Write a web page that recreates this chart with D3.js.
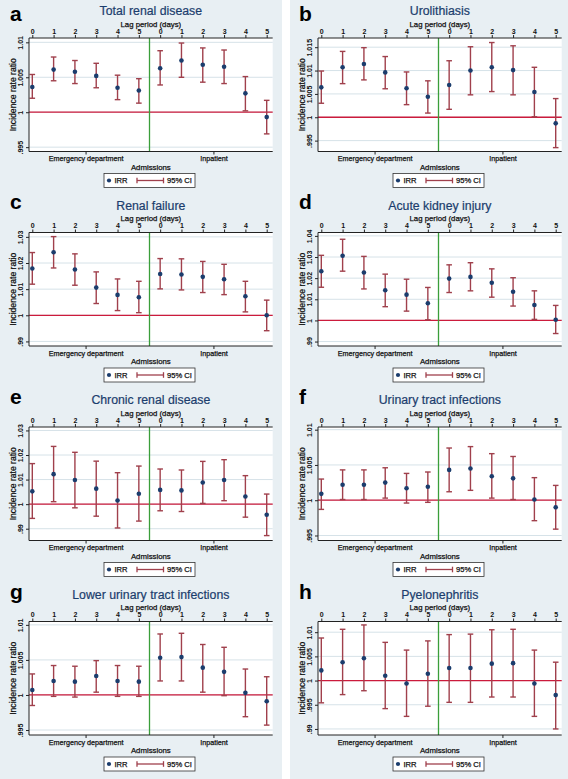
<!DOCTYPE html>
<html><head><meta charset="utf-8">
<script src="https://cdn.jsdelivr.net/npm/d3@7"></script>
<style>
body{margin:0;background:#fff}
svg{display:block}
text{font-family:"Liberation Sans",Arial,Helvetica,sans-serif}
.heavy{stroke:#111;stroke-width:0.25px}
</style>
</head><body>
<svg id="chart" width="568" height="779"></svg>
<script>
// ---------- DATA ----------
const lagLabels = ["0","1","2","3","4","5","0","1","2","3","4","5"];
const settingLabels = ["Emergency department","Inpatient"];
const panelLetters = ["a","b","c","d","e","f","g","h"];
const panelTitles = ["Total renal disease","Urolithiasis","Renal failure","Acute kidney injury",
  "Chronic renal disease","Urinary tract infections","Lower urinary tract infections","Pyelonephritis"];
const legendLabels = ["IRR","95% CI"];

// a: Total renal disease
const irrA = [1.0036,1.0061,1.0058,1.0052,1.0035,1.0031, 1.0063,1.0074,1.0068,1.0065,1.0027,0.9993];
const loA  = [1.0020,1.0045,1.0041,1.0035,1.0018,1.0013, 1.0039,1.0050,1.0043,1.0041,1.0002,0.9969];
const hiA  = [1.0054,1.0079,1.0074,1.0070,1.0053,1.0048, 1.0088,1.0099,1.0092,1.0089,1.0051,1.0017];
const yRangeA = [0.99438, 1.01062];
const yTicksA = [0.995, 1, 1.005, 1.01];
const yTickLabelsA = [".995","1","1.005","1.01"];

// b: Urolithiasis
const irrB = [1.0064,1.0107,1.0114,1.0096,1.0062,1.0044, 1.0069,1.0100,1.0107,1.0101,1.0054,0.9987];
const loB  = [1.0030,1.0072,1.0080,1.0061,1.0027,1.0009, 1.0017,1.0048,1.0055,1.0048,1.0001,0.9935];
const hiB  = [1.0099,1.0141,1.0149,1.0130,1.0097,1.0078, 1.0121,1.0151,1.0160,1.0153,1.0107,1.0040];
const yRangeB = [0.99267, 1.01697];
const yTicksB = [0.995, 1, 1.005, 1.01, 1.015];
const yTickLabelsB = [".995","1","1.005","1.01","1.015"];

// c: Renal failure
const irrC = [1.0179,1.0241,1.0175,1.0106,1.0078,1.0069, 1.0158,1.0156,1.0147,1.0138,1.0073,1.0000];
const loC  = [1.0119,1.0181,1.0115,1.0045,1.0018,1.0010, 1.0101,1.0097,1.0087,1.0079,1.0013,0.9941];
const hiC  = [1.0240,1.0301,1.0235,1.0166,1.0139,1.0130, 1.0217,1.0216,1.0206,1.0195,1.0130,1.0058];
const yRangeC = [0.98825, 1.03167];
const yTicksC = [0.99, 1, 1.01, 1.02, 1.03];
const yTickLabelsC = [".99","1","1.01","1.02","1.03"];

// d: Acute kidney injury
const irrD = [1.0233,1.0306,1.0227,1.0143,1.0122,1.0081, 1.0198,1.0206,1.0178,1.0136,1.0073,1.0003];
const loD  = [1.0157,1.0233,1.0149,1.0065,1.0044,1.0003, 1.0132,1.0140,1.0110,1.0068,1.0005,0.9938];
const hiD  = [1.0308,1.0384,1.0303,1.0219,1.0195,1.0156, 1.0263,1.0273,1.0244,1.0202,1.0140,1.0071];
const yRangeD = [0.9879, 1.0416];
const yTicksD = [0.99, 1, 1.01, 1.02, 1.03, 1.04];
const yTickLabelsD = [".99","1","1.01","1.02","1.03","1.04"];

// e: Chronic renal disease
const irrE = [1.0052,1.0122,1.0098,1.0063,1.0015,1.0042, 1.0058,1.0056,1.0088,1.0098,1.0031,0.9957];
const loE  = [0.9942,1.0010,0.9985,0.9951,0.9903,0.9931, 0.9973,0.9970,1.0003,1.0014,0.9947,0.9872];
const hiE  = [1.0165,1.0235,1.0211,1.0175,1.0128,1.0155, 1.0143,1.0139,1.0174,1.0181,1.0116,1.0041];
const yRangeE = [0.9852, 1.0314];
const yTicksE = [0.99, 1, 1.01, 1.02, 1.03];
const yTickLabelsE = [".99","1","1.01","1.02","1.03"];

// f: Urinary tract infections
const irrF = [1.0009,1.0022,1.0022,1.0025,1.0017,1.0019, 1.0043,1.0045,1.0034,1.0031,1.0001,0.9990];
const loF  = [0.9987,1.0001,1.0001,1.0003,0.9996,0.9997, 1.0012,1.0014,1.0003,1.0001,0.9971,0.9959];
const hiF  = [1.0030,1.0043,1.0043,1.0046,1.0038,1.0040, 1.0074,1.0076,1.0066,1.0062,1.0032,1.0021];
const yRangeF = [0.99429, 1.01038];
const yTicksF = [0.995, 1, 1.005, 1.01];
const yTickLabelsF = [".995","1","1.005","1.01"];

// g: Lower urinary tract infections
const irrG = [1.0007,1.0020,1.0019,1.0027,1.0020,1.0019, 1.0053,1.0054,1.0039,1.0033,1.0003,0.9991];
const loG  = [0.9985,0.9998,0.9997,1.0004,0.9998,0.9998, 1.0020,1.0020,1.0004,0.9999,0.9969,0.9957];
const hiG  = [1.0030,1.0042,1.0041,1.0049,1.0042,1.0041, 1.0087,1.0088,1.0072,1.0068,1.0037,1.0026];
const yRangeG = [0.99429, 1.01048];
const yTicksG = [0.995, 1, 1.005, 1.01];
const yTickLabelsG = [".995","1","1.005","1.01"];

// h: Pyelonephritis
const irrH = [1.0021,1.0038,1.0046,1.0010,0.9994,1.0014, 1.0026,1.0026,1.0035,1.0036,0.9994,0.9970];
const loH  = [0.9954,0.9971,0.9979,0.9942,0.9926,0.9947, 0.9955,0.9955,0.9966,0.9966,0.9926,0.9900];
const hiH  = [1.0088,1.0106,1.0115,1.0079,1.0063,1.0082, 1.0095,1.0096,1.0105,1.0106,1.0063,1.0038];
const yRangeH = [0.98875, 1.01221];
const yTicksH = [0.99, 0.995, 1, 1.005, 1.01];
const yTickLabelsH = [".99",".995","1","1.005","1.01"];

// ---------- BUILD PANELS ----------
const panels = [
  [irrA,loA,hiA,yRangeA,yTicksA,yTickLabelsA],
  [irrB,loB,hiB,yRangeB,yTicksB,yTickLabelsB],
  [irrC,loC,hiC,yRangeC,yTicksC,yTickLabelsC],
  [irrD,loD,hiD,yRangeD,yTicksD,yTickLabelsD],
  [irrE,loE,hiE,yRangeE,yTicksE,yTickLabelsE],
  [irrF,loF,hiF,yRangeF,yTicksF,yTickLabelsF],
  [irrG,loG,hiG,yRangeG,yTicksG,yTickLabelsG],
  [irrH,loH,hiH,yRangeH,yTicksH,yTickLabelsH]
].map((p,i)=>({
  letter: panelLetters[i], title: panelTitles[i],
  rows: lagLabels.map((l,j)=>({idx:j, lag:l, irr:p[0][j], lo:p[1][j], hi:p[2][j]})),
  yRange: p[3], yTicks: p[4], yTickLabels: p[5]
}));

// ---------- LAYOUT ----------
const svg = d3.select("#chart");
const BG = "#e8eff3";
const colX = [0, 289];
const rowY = [0, 194.5, 389, 583.5];
const letterBase = [20.5, 14, 14.5, 15.5];

svg.append("rect").attr("x",0).attr("y",0).attr("width",282).attr("height",779).attr("fill",BG);
svg.append("rect").attr("x",290).attr("y",0).attr("width",278).attr("height",779).attr("fill",BG);

const PL = 29, PR = 272.7, PT = 38, PB = 151.5;
const PC = (PL+PR)/2;
const NAVY = "#1b3d6d", CI = "#a0404c", REF = "#cc1b3c", GREEN = "#3a9e3a", AX = "#222";

panels.forEach((p,i)=>{
  const col = i%2, row = Math.floor(i/2);
  const g = svg.append("g").attr("transform",`translate(${colX[col]},${rowY[row]})`);

  const x = d3.scaleLinear().domain([0,11]).range([PL+3.3, PR-6]);
  const y = d3.scaleLinear().domain(p.yRange).range([PB, PT]);

  // plot region
  g.append("rect").attr("x",PL).attr("y",PT).attr("width",PR-PL).attr("height",PB-PT).attr("fill","#fff");

  // gridlines
  g.append("g").selectAll("line").data(p.yTicks).join("line")
    .attr("x1",PL).attr("x2",PR).attr("y1",d=>y(d)).attr("y2",d=>y(d))
    .attr("stroke","#d6e2e8").attr("stroke-width",1);

  // reference line at 1
  g.append("line").attr("x1",PL).attr("x2",PR).attr("y1",y(1)).attr("y2",y(1))
    .attr("stroke",REF).attr("stroke-width",1.3);

  // vertical separator
  g.append("line").attr("x1",x(5.5)).attr("x2",x(5.5)).attr("y1",PT).attr("y2",PB)
    .attr("stroke",GREEN).attr("stroke-width",1.3);

  // CI bars
  const ci = g.append("g").attr("stroke",CI).attr("stroke-width",1.4).attr("fill","none");
  ci.selectAll("line.v").data(p.rows).join("line").attr("class","v")
    .attr("x1",d=>x(d.idx)).attr("x2",d=>x(d.idx)).attr("y1",d=>y(d.lo)).attr("y2",d=>y(d.hi));
  ci.selectAll("line.t").data(p.rows).join("line").attr("class","t")
    .attr("x1",d=>x(d.idx)-2.8).attr("x2",d=>x(d.idx)+2.8).attr("y1",d=>y(d.hi)).attr("y2",d=>y(d.hi));
  ci.selectAll("line.b").data(p.rows).join("line").attr("class","b")
    .attr("x1",d=>x(d.idx)-2.8).attr("x2",d=>x(d.idx)+2.8).attr("y1",d=>y(d.lo)).attr("y2",d=>y(d.lo));

  // points
  g.append("g").selectAll("circle").data(p.rows).join("circle")
    .attr("cx",d=>x(d.idx)).attr("cy",d=>y(d.irr)).attr("r",2.3).attr("fill",NAVY);

  // left axis
  const yAxis = d3.axisLeft(y).tickValues(p.yTicks).tickFormat((d,k)=>p.yTickLabels[k]).tickSize(3).tickPadding(2);
  const ya = g.append("g").attr("transform",`translate(${PL},0)`).call(yAxis);
  ya.select(".domain").attr("stroke",AX).attr("d",`M0,${PT}V${PB}`);
  ya.selectAll(".tick line").attr("stroke",AX);
  ya.selectAll(".tick text").attr("font-size",7).attr("font-weight","bold").attr("fill","#111")
    .attr("text-anchor","middle").attr("dy",0)
    .attr("transform","rotate(-90)").attr("x",0).attr("y",-6);

  // top axis (lags)
  const xTop = d3.axisTop(x).tickValues(d3.range(12)).tickFormat((d)=>lagLabels[d]).tickSize(3).tickPadding(1.5);
  const xa = g.append("g").attr("transform",`translate(0,${PT})`).call(xTop);
  xa.select(".domain").attr("stroke",AX).attr("d",`M${PL},0H${PR}`);
  xa.selectAll(".tick line").attr("stroke",AX);
  xa.selectAll(".tick text").attr("font-size",7).attr("font-weight","bold").attr("fill","#111");

  // bottom axis (settings)
  const xBot = d3.axisBottom(x).tickValues([2.5,8.5]).tickFormat((d,k)=>settingLabels[k]).tickSize(3).tickPadding(1.5);
  const xb = g.append("g").attr("transform",`translate(0,${PB})`).call(xBot);
  xb.select(".domain").attr("stroke",AX).attr("d",`M${PL},0H${PR}`);
  xb.selectAll(".tick line").attr("stroke",AX);
  xb.selectAll(".tick text").attr("font-size",7.2).attr("fill","#111").attr("class","heavy");

  // axis titles
  g.append("text").attr("x",PC).attr("y",26.5).attr("text-anchor","middle").attr("class","heavy")
    .attr("font-size",7.8).attr("fill","#111").text("Lag period (days)");
  g.append("text").attr("x",PC).attr("y",169.5).attr("text-anchor","middle").attr("class","heavy")
    .attr("font-size",7.8).attr("fill","#111").text("Admissions");
  g.append("text").attr("transform",`translate(15.5,${(PT+PB)/2}) rotate(-90)`).attr("text-anchor","middle")
    .attr("class","heavy").attr("font-size",8.6).attr("fill","#111").text("Incidence rate ratio");

  // title and letter
  g.append("text").attr("x",PC).attr("y",15).attr("text-anchor","middle")
    .attr("font-size",12.3).attr("fill",NAVY).attr("stroke",NAVY).attr("stroke-width",0.2).text(p.title);
  g.append("text").attr("x",10).attr("y",letterBase[row]).attr("font-size",21).attr("font-weight","bold")
    .attr("fill","#000").text(p.letter);

  // legend
  const lg = g.append("g");
  lg.append("rect").attr("x",104).attr("y",173.5).attr("width",91).attr("height",14)
    .attr("fill","#fff").attr("stroke","#333").attr("stroke-width",0.8);
  lg.append("circle").attr("cx",109).attr("cy",180.5).attr("r",2.1).attr("fill",NAVY);
  lg.append("text").attr("x",114.5).attr("y",183.3).attr("font-size",7.6).attr("fill","#111").attr("class","heavy").text(legendLabels[0]);
  lg.append("line").attr("x1",137).attr("x2",163.5).attr("y1",180.5).attr("y2",180.5).attr("stroke",CI).attr("stroke-width",1.3);
  lg.append("line").attr("x1",137).attr("x2",137).attr("y1",177.7).attr("y2",183.3).attr("stroke",CI).attr("stroke-width",1.3);
  lg.append("line").attr("x1",163.5).attr("x2",163.5).attr("y1",177.7).attr("y2",183.3).attr("stroke",CI).attr("stroke-width",1.3);
  lg.append("text").attr("x",167).attr("y",183.3).attr("font-size",7.6).attr("fill","#111").attr("class","heavy").text(legendLabels[1]);
});
</script>
</body></html>
